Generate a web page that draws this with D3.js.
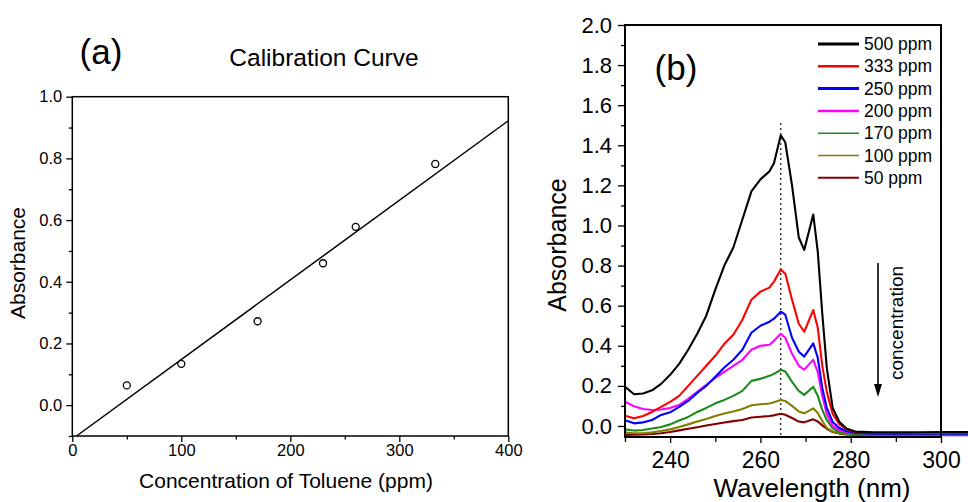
<!DOCTYPE html>
<html>
<head>
<meta charset="utf-8">
<script src="https://cdn.jsdelivr.net/npm/d3@7"></script>
<style>
  html, body { margin: 0; padding: 0; background: #fff; }
  svg { display: block; }
  text { font-family: "Liberation Sans", Arial, Helvetica, sans-serif; fill: #000; }
</style>
</head>
<body>
<script>
// ---------- Panel (a): calibration data ----------
const calConc = [50, 100, 170, 230, 260, 333];
const calAbs = [0.064, 0.134, 0.272, 0.46, 0.578, 0.782];
const fitX = [3.9, 400];
const fitY = [-0.1, 0.922];
const aYMajor = [0.0, 0.2, 0.4, 0.6, 0.8, 1.0];
const aYMinor = [-0.1, 0.1, 0.3, 0.5, 0.7, 0.9];
const aXMajor = [0, 100, 200, 300, 400];
const aXMinor = [50, 150, 250, 350];

// ---------- Panel (b): UV spectra ----------
const wavelengths = [230, 232, 234, 236, 238, 240, 242, 244, 246, 248, 250, 252, 254, 256, 258, 260, 262, 263, 264.5, 265.5, 267, 268.5, 269.7, 271.7, 272.7, 273.7, 274.7, 276, 277.5, 279, 281, 285, 290, 295, 300, 306];
const abs500 = [0.196, 0.158, 0.162, 0.178, 0.21, 0.255, 0.31, 0.38, 0.46, 0.55, 0.68, 0.80, 0.89, 1.03, 1.17, 1.23, 1.27, 1.31, 1.45, 1.415, 1.20, 0.94, 0.878, 1.055, 0.87, 0.56, 0.29, 0.09, 0.02, -0.012, -0.028, -0.032, -0.032, -0.031, -0.03, -0.03];
const abs333 = [0.051, 0.038, 0.050, 0.070, 0.095, 0.12, 0.15, 0.20, 0.25, 0.30, 0.35, 0.41, 0.455, 0.53, 0.63, 0.67, 0.69, 0.72, 0.78, 0.76, 0.63, 0.51, 0.47, 0.578, 0.49, 0.30, 0.17, 0.06, 0.008, -0.015, -0.03, -0.035, -0.035, -0.035, -0.035, -0.035];
const abs250 = [0.028, 0.013, 0.018, 0.03, 0.055, 0.068, 0.095, 0.125, 0.165, 0.20, 0.246, 0.292, 0.33, 0.38, 0.465, 0.50, 0.52, 0.535, 0.57, 0.555, 0.44, 0.37, 0.346, 0.412, 0.34, 0.19, 0.09, 0.02, -0.01, -0.025, -0.035, -0.038, -0.038, -0.038, -0.038, -0.038];
const abs200 = [0.121, 0.098, 0.085, 0.08, 0.082, 0.09, 0.105, 0.135, 0.17, 0.205, 0.24, 0.27, 0.30, 0.33, 0.38, 0.40, 0.405, 0.425, 0.46, 0.44, 0.36, 0.30, 0.281, 0.33, 0.27, 0.15, 0.06, 0.0, -0.02, -0.03, -0.036, -0.036, -0.036, -0.036, -0.036, -0.036];
const abs170 = [-0.017, -0.023, -0.02, -0.013, -0.005, 0.008, 0.027, 0.045, 0.07, 0.09, 0.113, 0.13, 0.15, 0.175, 0.225, 0.235, 0.25, 0.26, 0.28, 0.272, 0.22, 0.175, 0.155, 0.196, 0.15, 0.08, 0.03, -0.012, -0.03, -0.037, -0.041, -0.042, -0.042, -0.042, -0.042, -0.042];
const abs100 = [-0.033, -0.036, -0.036, -0.032, -0.025, -0.017, -0.005, 0.008, 0.022, 0.035, 0.05, 0.062, 0.072, 0.085, 0.103, 0.108, 0.112, 0.118, 0.13, 0.125, 0.10, 0.072, 0.063, 0.088, 0.065, 0.025, -0.01, -0.028, -0.036, -0.04, -0.042, -0.043, -0.043, -0.043, -0.043, -0.043];
const abs50 = [-0.045, -0.044, -0.042, -0.04, -0.036, -0.03, -0.022, -0.014, -0.006, 0.002, 0.01, 0.017, 0.024, 0.03, 0.042, 0.046, 0.05, 0.053, 0.061, 0.056, 0.04, 0.022, 0.018, 0.033, 0.022, 0.003, -0.014, -0.03, -0.038, -0.042, -0.045, -0.046, -0.046, -0.046, -0.046, -0.046];
const seriesNames = ["500 ppm", "333 ppm", "250 ppm", "200 ppm", "170 ppm", "100 ppm", "50 ppm"];
const seriesColors = ["#000000", "#ff0000", "#0000ff", "#ff00ff", "#1a8c1a", "#808000", "#800000"];
const seriesValues = [abs500, abs333, abs250, abs200, abs170, abs100, abs50];
const bYMajor = [0.0, 0.2, 0.4, 0.6, 0.8, 1.0, 1.2, 1.4, 1.6, 1.8, 2.0];
const bYMinor = [0.1, 0.3, 0.5, 0.7, 0.9, 1.1, 1.3, 1.5, 1.7, 1.9];
const bXMajor = [240, 260, 280, 300];
const bXMinor = [230, 250, 270, 290];
const peakWavelength = 264.5;

const svg = d3.select("body").append("svg").attr("width", 968).attr("height", 502);
const fmt1 = d3.format(".1f");

// =========== Panel (a) ===========
const xA = d3.scaleLinear().domain([0, 400]).range([72.3, 508.3]);
const yA = d3.scaleLinear().domain([-0.1, 1.0]).range([436, 96.7]);
const gA = svg.append("g");

function styleAxis(g, fs) {
  g.select(".domain").remove();
  g.selectAll(".tick line").attr("stroke", "#000").attr("stroke-width", 1.3);
  g.selectAll(".tick text").style("font-size", fs + "px").attr("fill", "#000");
}

gA.append("g").attr("transform", `translate(${xA(0)},0)`)
  .call(d3.axisLeft(yA).tickValues(aYMajor).tickFormat(fmt1).tickSize(6).tickPadding(4))
  .call(g => styleAxis(g, 16.5));
gA.append("g").attr("transform", `translate(${xA(0)},0)`)
  .call(d3.axisLeft(yA).tickValues(aYMinor).tickFormat("").tickSize(3.5))
  .call(g => styleAxis(g, 16.5));
gA.append("g").attr("transform", `translate(0,${yA(-0.1)})`)
  .call(d3.axisBottom(xA).tickValues(aXMajor).tickFormat(d3.format("d")).tickSize(6).tickPadding(2))
  .call(g => styleAxis(g, 16.5));
gA.append("g").attr("transform", `translate(0,${yA(-0.1)})`)
  .call(d3.axisBottom(xA).tickValues(aXMinor).tickFormat("").tickSize(3.5))
  .call(g => styleAxis(g, 16.5));

gA.append("rect")
  .attr("x", xA(0)).attr("y", yA(1.0))
  .attr("width", xA(400) - xA(0)).attr("height", yA(-0.1) - yA(1.0))
  .attr("fill", "none").attr("stroke", "#000").attr("stroke-width", 1.5);

gA.append("path")
  .datum(fitX.map((x, i) => [x, fitY[i]]))
  .attr("d", d3.line().x(d => xA(d[0])).y(d => yA(d[1])))
  .attr("fill", "none").attr("stroke", "#000").attr("stroke-width", 1.5);

gA.selectAll("circle.cal")
  .data(calConc.map((c, i) => [c, calAbs[i]]))
  .join("circle").attr("class", "cal")
  .attr("cx", d => xA(d[0])).attr("cy", d => yA(d[1])).attr("r", 3.5)
  .attr("fill", "none").attr("stroke", "#000").attr("stroke-width", 1.3);

gA.append("text").attr("x", 101).attr("y", 64).attr("text-anchor", "middle")
  .style("font-size", "35px").text("(a)");
gA.append("text").attr("x", 324).attr("y", 66).attr("text-anchor", "middle")
  .style("font-size", "24.5px").text("Calibration Curve");
gA.append("text").attr("x", 286).attr("y", 488).attr("text-anchor", "middle")
  .style("font-size", "21px").text("Concentration of Toluene (ppm)");
gA.append("text").attr("transform", "translate(25,263) rotate(-90)").attr("text-anchor", "middle")
  .style("font-size", "21px").text("Absorbance");

// =========== Panel (b) ===========
const xB = d3.scaleLinear().domain([230, 300]).range([625, 941]);
const yB = d3.scaleLinear().domain([-0.055, 2.0]).range([437, 25]);
const gB = svg.append("g");

gB.append("g").attr("transform", `translate(${xB(230)},0)`)
  .call(d3.axisLeft(yB).tickValues(bYMajor).tickFormat(fmt1).tickSize(7).tickPadding(6))
  .call(g => styleAxis(g, 22));
gB.append("g").attr("transform", `translate(${xB(230)},0)`)
  .call(d3.axisLeft(yB).tickValues(bYMinor).tickFormat("").tickSize(4))
  .call(g => styleAxis(g, 22));
gB.append("g").attr("transform", `translate(0,${yB(-0.055)})`)
  .call(d3.axisBottom(xB).tickValues(bXMajor).tickFormat(d3.format("d")).tickSize(6).tickPadding(9))
  .call(g => styleAxis(g, 23));
gB.append("g").attr("transform", `translate(0,${yB(-0.055)})`)
  .call(d3.axisBottom(xB).tickValues(bXMinor).tickFormat("").tickSize(5))
  .call(g => styleAxis(g, 23));

// dotted guide at peak
gB.append("line")
  .attr("x1", xB(peakWavelength)).attr("x2", xB(peakWavelength))
  .attr("y1", 123).attr("y2", yB(-0.055))
  .attr("stroke", "#222").attr("stroke-width", 1.3).attr("stroke-dasharray", "2,3");

const lineB = d3.line().x((d) => xB(d[0])).y(d => yB(d[1]));
// draw from lowest to highest so black is on top
for (let s = seriesValues.length - 1; s >= 0; s--) {
  gB.append("path")
    .datum(wavelengths.map((w, i) => [w, seriesValues[s][i]]))
    .attr("d", lineB)
    .attr("fill", "none").attr("stroke", seriesColors[s])
    .attr("stroke-width", 2.1).attr("stroke-linejoin", "round");
}

gB.append("rect")
  .attr("x", xB(230)).attr("y", yB(2.0))
  .attr("width", xB(300) - xB(230)).attr("height", yB(-0.055) - yB(2.0))
  .attr("fill", "none").attr("stroke", "#000").attr("stroke-width", 2);

// legend
const legW = [3, 2.5, 3, 2.5, 1.6, 1.4, 2];
seriesNames.forEach((name, i) => {
  const y = 44 + i * 22.3;
  gB.append("line").attr("x1", 818).attr("x2", 859).attr("y1", y).attr("y2", y)
    .attr("stroke", seriesColors[i]).attr("stroke-width", legW[i]);
  gB.append("text").attr("x", 864).attr("y", y).attr("dy", "0.35em")
    .style("font-size", "17.5px").text(name);
});

gB.append("text").attr("x", 676).attr("y", 80).attr("text-anchor", "middle")
  .style("font-size", "35px").text("(b)");
gB.append("text").attr("x", 812).attr("y", 497).attr("text-anchor", "middle")
  .style("font-size", "26px").text("Wavelength (nm)");
gB.append("text").attr("transform", "translate(566,245) rotate(-90)").attr("text-anchor", "middle")
  .style("font-size", "25px").text("Absorbance");

// concentration arrow + label
gB.append("line").attr("x1", 878).attr("x2", 878).attr("y1", 263).attr("y2", 386)
  .attr("stroke", "#000").attr("stroke-width", 1.6);
gB.append("path").attr("d", "M874,384 L882,384 L878,397 Z").attr("fill", "#000");
gB.append("text").attr("transform", "translate(903,323) rotate(-90)").attr("text-anchor", "middle")
  .style("font-size", "19px").text("concentration");
</script>
</body>
</html>
